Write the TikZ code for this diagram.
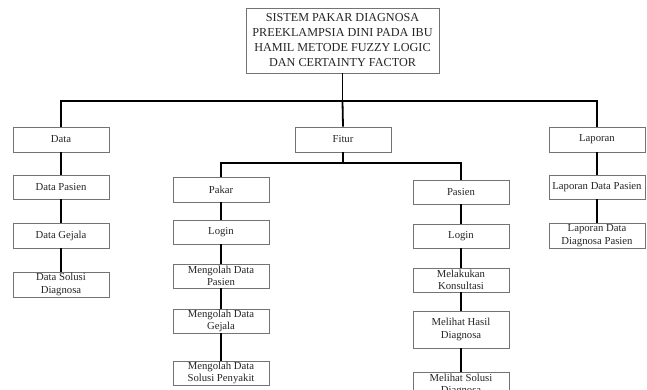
\documentclass[tikz,border=0pt]{standalone}
\usepackage{fontspec}
\setmainfont{Liberation Serif}
\begin{document}
\begin{tikzpicture}[x=1pt,y=-1pt,
  box/.style={draw=black!55, line width=0.7pt, fill=white, minimum width=96pt, minimum height=24pt,
    inner sep=1pt, align=center, text=black!85, font=\fontsize{10.7}{12.5}\selectfont},
  link/.style={line width=1.8pt, black}]
\useasboundingbox (0,0) rectangle (647,390);
\clip (0,0) rectangle (647,390);
% top
\node[box, minimum width=193pt, minimum height=65pt, font=\fontsize{12.2}{15}\selectfont] (top) at (342.5,40.5)
  {SISTEM PAKAR DIAGNOSA\\PREEKLAMPSIA DINI PADA IBU\\HAMIL METODE FUZZY LOGIC\\DAN CERTAINTY FACTOR};
% level 1
\node[box, minimum height=25pt] (data) at (61,139.5) {Data};
\node[box, minimum height=25pt] (fitur) at (343,139.5) {Fitur};
\node[box, minimum height=25pt] (laporan) at (597,139.5) {Laporan};
% data column
\node[box] (dpasien) at (61,187) {Data Pasien};
\node[box, minimum height=25pt] (dgejala) at (61,235.5) {Data Gejala};
\node[box, minimum height=25pt] (dsolusi) at (61,284.5) {Data Solusi\\Diagnosa};
% pakar column
\node[box, minimum height=25pt] (pakar) at (221,189.5) {Pakar};
\node[box] (plogin) at (221,232) {Login};
\node[box] (pdpasien) at (221,276) {Mengolah Data\\Pasien};
\node[box] (pdgejala) at (221,321) {Mengolah Data\\Gejala};
\node[box] (pdsolusi) at (221,373) {Mengolah Data\\Solusi Penyakit};
% pasien column
\node[box] (pasien) at (461,192) {Pasien};
\node[box] (slogin) at (461,236) {Login};
\node[box] (skons) at (461,280) {Melakukan\\Konsultasi};
\node[box, minimum height=37pt] (shasil) at (461,329.5) {Melihat Hasil\\Diagnosa};
\node[box, minimum height=26pt] (ssolusi) at (461,385) {Melihat Solusi\\Diagnosa};
% laporan column
\node[box] (ldpasien) at (597,187) {Laporan Data Pasien};
\node[box, minimum height=25pt] (lddiag) at (597,235.5) {Laporan Data\\Diagnosa Pasien};
% connectors
\draw[link] (top.south) -- ++(0,28) coordinate (tb);
\draw[link] (data.north) |- (tb) -| (laporan.north);
\draw[link] (tb) -- (fitur.north);
\draw[link] (fitur.south) -- ++(0,11) coordinate (fb);
\draw[link] (pakar.north) |- (fb) -| (pasien.north);
\draw[link] (data) -- (dpasien);
\draw[link] (dpasien) -- (dgejala);
\draw[link] (dgejala) -- (dsolusi);
\draw[link] (pakar) -- (plogin);
\draw[link] (plogin) -- (pdpasien);
\draw[link] (pdpasien) -- (pdgejala);
\draw[link] (pdgejala) -- (pdsolusi);
\draw[link] (pasien) -- (slogin);
\draw[link] (slogin) -- (skons);
\draw[link] (skons) -- (shasil);
\draw[link] (shasil) -- (ssolusi);
\draw[link] (laporan) -- (ldpasien);
\draw[link] (ldpasien) -- (lddiag);
\end{tikzpicture}
\end{document}
